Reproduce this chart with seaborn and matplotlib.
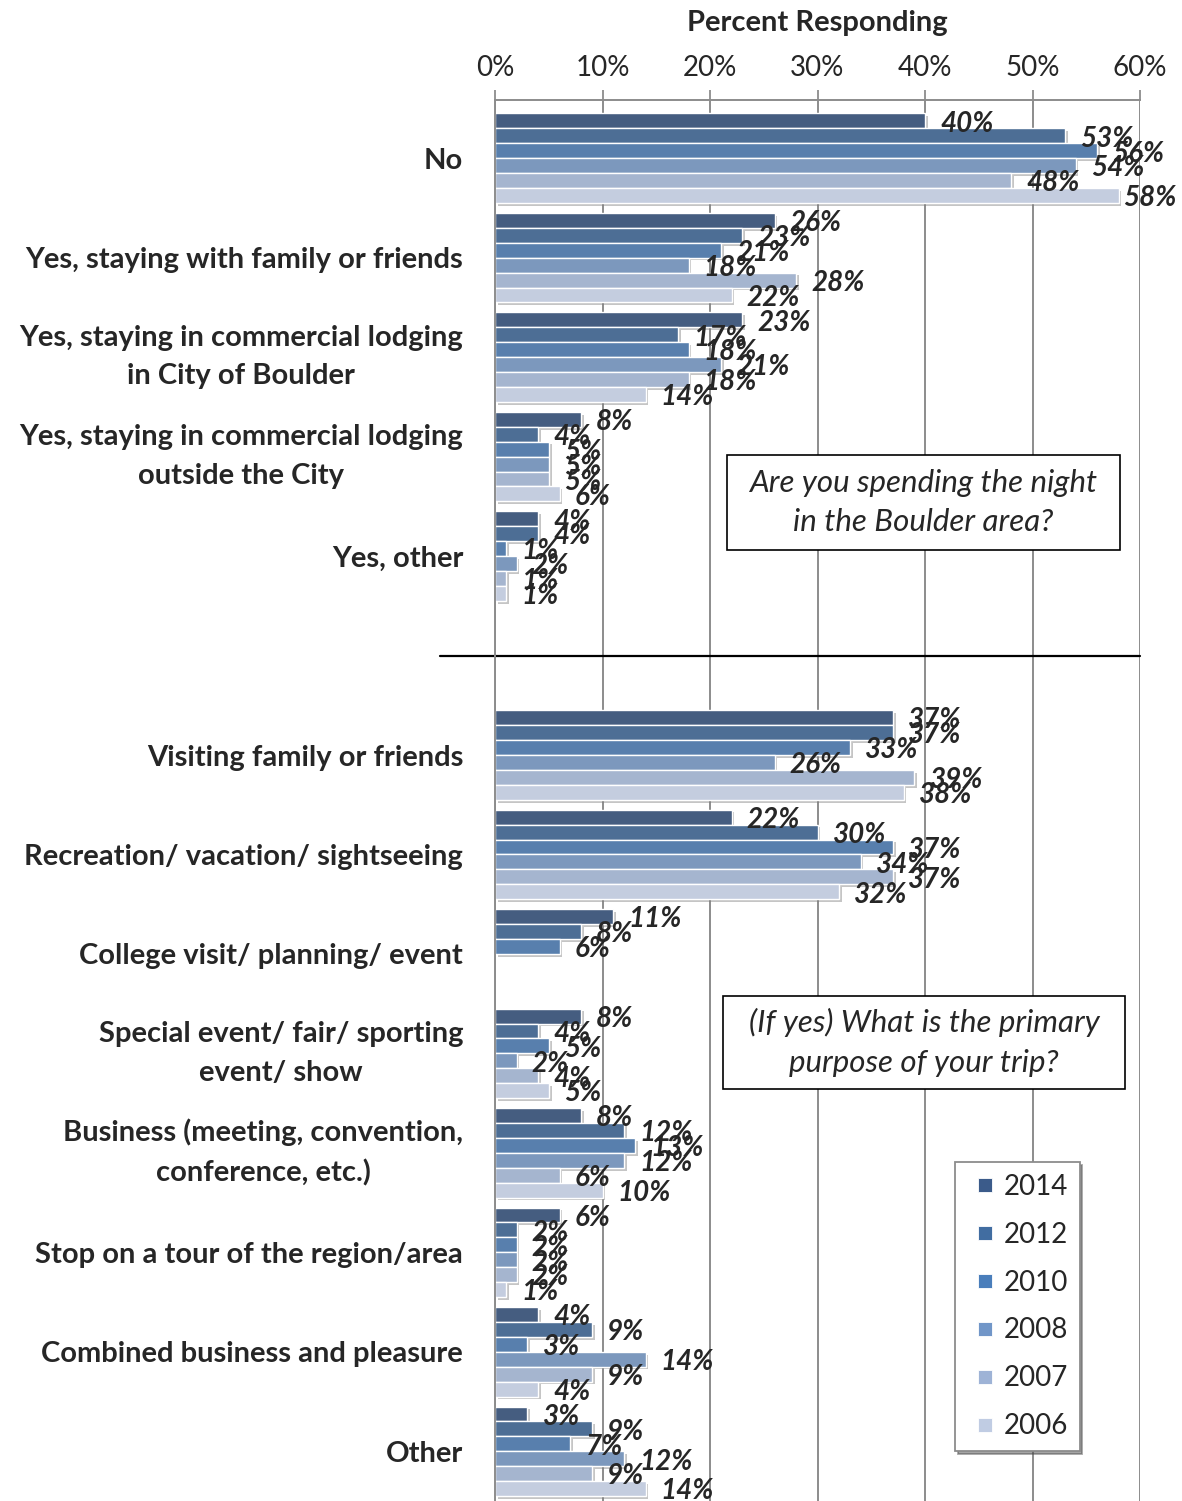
import matplotlib
matplotlib.use("Agg")
import matplotlib.pyplot as plt
import matplotlib.patheffects as pe
from matplotlib.patches import Rectangle
from matplotlib.lines import Line2D
import numpy as np
import pandas as pd
import seaborn as sns

# ---- survey data -------------------------------------------------------
overnight = [
    "No",
    "Yes, staying with family or friends",
    "Yes, staying in commercial lodging\nin City of Boulder",
    "Yes, staying in commercial lodging\noutside the City",
    "Yes, other",
]
purpose = [
    "Visiting family or friends",
    "Recreation/ vacation/ sightseeing",
    "College visit/ planning/ event",
    "Special event/ fair/ sporting\nevent/ show",
    "Business (meeting, convention,\nconference, etc.)",
    "Stop on a tour of the region/area",
    "Combined business and pleasure",
    "Other",
]
categories = overnight + purpose
years = ["2014", "2012", "2010", "2008", "2007", "2006"]

pct_2014 = [40, 26, 23, 8, 4, 37, 22, 11, 8, 8, 6, 4, 3]
pct_2012 = [53, 23, 17, 4, 4, 37, 30, 8, 4, 12, 2, 9, 9]
pct_2010 = [56, 21, 18, 5, 1, 33, 37, 6, 5, 13, 2, 3, 7]
pct_2008 = [54, 18, 21, 5, 2, 26, 34, None, 2, 12, 2, 14, 12]
pct_2007 = [48, 28, 18, 5, 1, 39, 37, None, 4, 6, 2, 9, 9]
pct_2006 = [58, 22, 14, 6, 1, 38, 32, None, 5, 10, 1, 4, 14]

colors = ["#3B5B8A", "#416DA1", "#4A7EBB", "#7196C8", "#9EB3D6", "#C0CCE3"]

series = dict(zip(years, [pct_2014, pct_2012, pct_2010, pct_2008, pct_2007, pct_2006]))
rows = []
for yr, vals in series.items():
    for cat, v in zip(categories, vals):
        if v is not None:
            rows.append({"category": cat, "year": yr, "pct": v})
df = pd.DataFrame(rows)

gap = " "
order = overnight + [gap] + purpose

# ---- style -------------------------------------------------------------
sns.set_style("white")
plt.rcParams["font.family"] = ["Lato", "DejaVu Sans"]
FS_CAT = 21
FS_TICK = 20
FS_TITLE = 21
FS_VAL = 20
FS_BOX = 22.5
grid_c = "#8C8C8C"

W, H = 1182, 1501
fig = plt.figure(figsize=(W / 100, H / 100), dpi=100)
ax_left, ax_right, ax_top, ax_bot = 495, 1140, 100, H
ax = fig.add_axes([ax_left / W, 1 - ax_bot / H,
                   (ax_right - ax_left) / W, (ax_bot - ax_top) / H])

sns.barplot(data=df, y="category", x="pct", hue="year", order=order,
            hue_order=years, palette=colors, orient="h", width=0.9,
            errorbar=None, edgecolor="white", linewidth=1.0, ax=ax)

shadow = [pe.SimplePatchShadow(offset=(2.0, -2.0), shadow_rgbFace="#7f7f7f", alpha=0.45),
          pe.Normal()]
for cont in ax.containers:
    for bar in cont:
        bar.set_path_effects(shadow)

ax.set_xlim(0, 60)
slot_px = 99.6
first_edge = 108.5
ax.set_ylim(-0.5 + (ax_bot - first_edge) / slot_px, -0.5 - (first_edge - ax_top) / slot_px)

# top percentage axis
ax.xaxis.tick_top()
ax.xaxis.set_label_position("top")
ax.set_xticks(range(0, 61, 10))
ax.set_xticklabels([f"{t}%" for t in range(0, 61, 10)], fontsize=FS_TICK)
ax.set_xlabel("Percent Responding", fontsize=FS_TITLE, fontweight="bold", labelpad=17)
ax.tick_params(axis="x", which="major", direction="out", length=7, width=1.3,
               color=grid_c, pad=7)
ax.xaxis.grid(True, color=grid_c, linewidth=1.4)
ax.set_axisbelow(True)

# category axis: labels at slot centres, tick marks between groups
ax.set_yticks(range(len(order)))
ax.set_yticklabels(order, fontsize=FS_CAT, fontweight="bold", linespacing=1.6)
for t in ax.get_yticklabels():
    t.set_multialignment("center")
    if "\n" in t.get_text():
        t.set_verticalalignment("center")
ax.tick_params(axis="y", which="major", length=0, pad=23)
ax.set_yticks(np.arange(-0.5, len(order), 1.0), minor=True)
ax.tick_params(axis="y", which="minor", direction="out", length=7, width=1.3,
               color=grid_c)
ax.set_ylabel("")

for side in ["right", "bottom"]:
    ax.spines[side].set_visible(False)
for side in ["top", "left"]:
    ax.spines[side].set_color(grid_c)
    ax.spines[side].set_linewidth(1.4)

# divider between the two questions
ax.axhline(order.index(gap), xmin=-(ax_left - 440) / (ax_right - ax_left), xmax=1,
           color="black", linewidth=1.6, clip_on=False)

# value labels
anns = []
for cont in ax.containers:
    anns += ax.bar_label(cont, fmt="{:.0f}%", padding=11, fontsize=FS_VAL,
                         fontweight="bold", fontstyle="italic")
for a in anns:
    a.xyann = (a.xyann[0], -2)

# question boxes
def question_box(x0, y0, x1, y1, text):
    fig.add_artist(Rectangle((x0 / W, 1 - y1 / H), (x1 - x0) / W, (y1 - y0) / H,
                             transform=fig.transFigure, facecolor="white",
                             edgecolor="black", linewidth=1.2, zorder=5))
    fig.text((x0 + x1) / 2 / W, 1 - (y0 + y1) / 2 / H, text, ha="center",
             va="center", fontsize=FS_BOX, fontstyle="italic", linespacing=1.5,
             zorder=6)

question_box(727, 455, 1120, 550, "Are you spending the night\nin the Boulder area?")
question_box(723, 996, 1125, 1089, "(If yes) What is the primary\npurpose of your trip?")

# legend with square swatches
if ax.get_legend() is not None:
    ax.get_legend().remove()
handles = [Line2D([], [], linestyle="none", marker="s", markersize=9.4,
                  markerfacecolor=c, markeredgecolor="white", markeredgewidth=0.6)
           for c in colors]
leg = fig.legend(handles, years, loc="upper left",
                 bbox_to_anchor=(955 / W, 1 - 1162 / H), borderaxespad=0,
                 fontsize=FS_TICK, frameon=True, fancybox=False, shadow=True,
                 edgecolor=grid_c, handlelength=1.33, handletextpad=0.0,
                 labelspacing=0.79, borderpad=0.42)
leg.get_frame().set_linewidth(1.3)

# keep value labels inside the figure
fig.canvas.draw()
r = fig.canvas.get_renderer()
for a in anns:
    bb = a.get_window_extent(r)
    if bb.x1 > W - 6:
        a.xyann = (a.xyann[0] - (bb.x1 - (W - 6)) * 0.72, a.xyann[1])

fig.savefig("out.png", dpi=100)
